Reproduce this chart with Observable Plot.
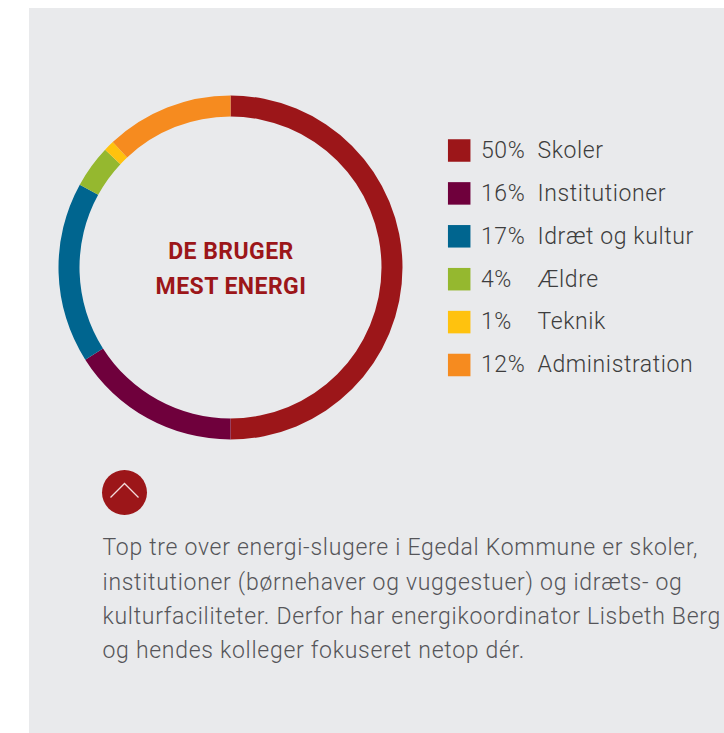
<!DOCTYPE html>
<html lang="da">
<head>
<meta charset="utf-8">
<script src="https://cdn.jsdelivr.net/npm/d3@7"></script>
<script src="https://cdn.jsdelivr.net/npm/@observablehq/plot@0.6"></script>
<style>
html,body{margin:0;padding:0;background:#fff;}
#panel{position:absolute;left:29px;top:8px;width:695px;height:725px;background:#e9eaec;}
#chart{position:absolute;left:0;top:0;width:724px;height:733px;}
#chart svg{background:transparent;display:block;}
.legend-text text{letter-spacing:.6px;}
.body-text text{letter-spacing:.71px;}
.center-text text{letter-spacing:.45px;}
</style>
</head>
<body>
<div id="panel"></div>
<div id="chart"></div>
<script>
const categories = ["Skoler","Institutioner","Idræt og kultur","Ældre","Teknik","Administration"];
const shares = [50,16,17,4,1,12];
const colors = ["#9c1619","#6f003c","#00658f","#95b82f","#ffc20e","#f68b1f"];
const centerLines = ["DE BRUGER","MEST ENERGI"];
const bodyLines = [
  "Top tre over energi-slugere i Egedal Kommune er skoler,",
  "institutioner (børnehaver og vuggestuer) og idræts- og",
  "kulturfaciliteter. Derfor har energikoordinator Lisbeth Berg",
  "og hendes kolleger fokuseret netop dér."
];
const rows = categories.map((category,i)=>({category,share:shares[i]}));
const FONT = "Roboto, 'Noto Sans', sans-serif";
const CX = 230.5, CY = 267.5, R0 = 151, R1 = 172;

const chevron = {draw(c,size){
  const s = Math.sqrt(size)/2;
  c.moveTo(-s,s*.5); c.lineTo(0,-s*.5); c.lineTo(s,s*.5);
}};

const plot = Plot.plot({
  width:724, height:733, margin:0,
  style:{background:"transparent",fontFamily:FONT},
  x:{domain:[0,100],range:[0,2*Math.PI],axis:null},
  y:{type:"point",domain:categories,range:[150,364.5],padding:0,round:false,axis:null},
  color:{domain:categories,range:colors},
  marks:[
    Plot.barX(rows,Plot.stackX({
      x:"share",fill:"category",order:null,
      render(index,scales,values){
        const g = d3.create("svg:g").attr("transform",`translate(${CX},${CY})`);
        const arc = d3.arc().innerRadius(R0).outerRadius(R1);
        for(const i of index){
          g.append("path")
            .attr("d",arc({startAngle:values.x1[i],endAngle:values.x2[i]}))
            .attr("fill",values.fill[i]);
        }
        return g.node();
      }
    })),
    ...centerLines.map((line,i)=>Plot.text([line],{text:d=>d,frameAnchor:"top-left",dx:CX,dy:251.5+i*34.5,lineAnchor:"middle",textAnchor:"middle",fill:"#9c1619",fontSize:23,fontWeight:700,className:"center-text"})),
    Plot.dot(rows,{y:"category",fill:"category",symbol:"square",r:12.7,frameAnchor:"left",dx:458.7}),
    Plot.text(rows,{y:"category",text:d=>d.share+"%",frameAnchor:"left",dx:480.5,textAnchor:"start",fill:"#3d3d3d",fontSize:23,fontWeight:300,className:"legend-text"}),
    Plot.text(rows,{y:"category",text:"category",frameAnchor:"left",dx:537,textAnchor:"start",fill:"#3d3d3d",fontSize:23,fontWeight:300,className:"legend-text"}),
    Plot.dot([0],{frameAnchor:"top-left",dx:124,dy:492,r:22.5,fill:"#9c1619"}),
    Plot.dot([0],{frameAnchor:"top-left",dx:124,dy:490,r:15.8,symbol:chevron,fill:"none",stroke:"#f3dcdc",strokeWidth:1.3}),
    ...bodyLines.map((line,i)=>Plot.text([line],{text:d=>d,frameAnchor:"top-left",dx:102,dy:547.5+i*34.3,lineAnchor:"middle",textAnchor:"start",fill:"#555559",fontSize:23,fontWeight:300,className:"body-text"}))
  ]
});
document.getElementById("chart").append(plot);
</script>
</body>
</html>
